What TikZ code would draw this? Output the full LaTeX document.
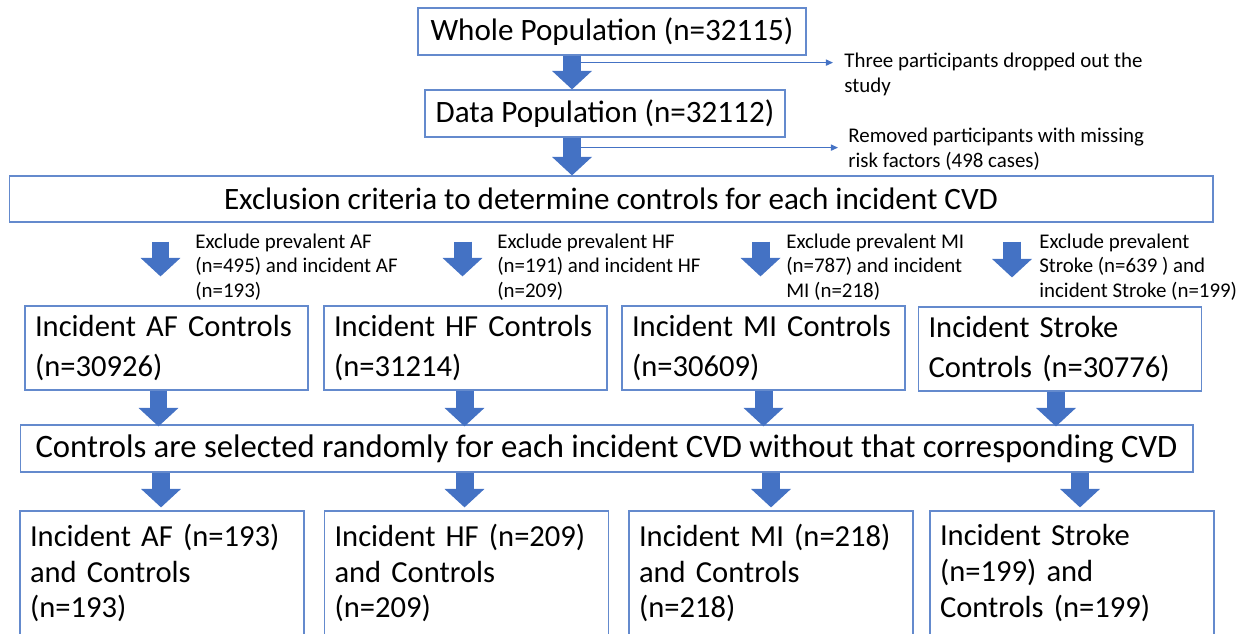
\documentclass[tikz,border=0pt]{standalone}
\usepackage{fontspec}
\setmainfont{Carlito}
\usepackage{tikz}
\usetikzlibrary{arrows.meta, positioning, calc}
\definecolor{flowblue}{RGB}{68,114,196}
\definecolor{boxline}{RGB}{100,138,205}

\tikzset{
  box/.style={draw=boxline, line width=0.7pt, inner sep=0pt, text=black,
    font=\fontsize{17.7}{21}\selectfont},
  ctlbox/.style={box, minimum height=1.68cm, text width=5.26cm, inner xsep=0.2cm,
    align=left, font=\fontsize{17.4}{22.7}\selectfont},
  resbox/.style={box, minimum height=2.48cm, text width=5.28cm, inner xsep=0.2cm,
    align=left, font=\fontsize{17.4}{20.4}\selectfont},
  note/.style={anchor=base west, inner sep=0pt, align=left,
    font=\fontsize{11.9}{13.8}\selectfont},
  bigarrow/.style={flowblue, line width=0.36cm,
    -{Triangle[width=0.8cm, length=0.37cm, line width=0pt]}},
  thinarrow/.style={flowblue, line width=0.6pt, -{Triangle[width=3.5pt, length=4pt]}},
}

\begin{document}
\begin{tikzpicture}[x=0.02cm, y=-0.02cm]
  \useasboundingbox (0,0) rectangle (1242,633);

  % Top of the flow
  \node[box, minimum width=7.76cm, minimum height=0.94cm] (whole) at (612,31.5)
    {Whole Population (n=32115)};
  \node[box, minimum width=7.2cm, minimum height=0.94cm] (data) at (605,113.5)
    {Data Population (n=32112)};
  \node[box, minimum width=24.08cm, minimum height=0.92cm] (excl) at (611,199)
    {Exclusion criteria to determine controls for each incident CVD};

  % Dropped participants (base = last line)
  \node[note] (note1) at (844,92) {Three participants dropped out the\\study};
  \node[note] (note2) at (848,167) {Removed participants with missing\\risk factors (498 cases)};

  \coordinate (mainx) at (572,0);
  \draw[bigarrow] (whole.south -| mainx) -- (data.north -| mainx);
  \draw[bigarrow] (data.south -| mainx) -- (excl.north -| mainx);
  \coordinate (drop1) at ($(whole.south -| mainx)+(9,7)$);
  \coordinate (drop2) at ($(data.south -| mainx)+(9,10)$);
  \draw[thinarrow] (drop1) -- ($(drop1 -| note1.west)+(-11,0)$);
  \draw[thinarrow] (drop2) -- ($(drop2 -| note2.west)+(-10,0)$);

  % Controls per incident CVD
  \node[ctlbox] (ctl1) at (166.5,348) {Incident AF Controls\\(n=30926)};
  \node[ctlbox] (ctl2) at (465.5,348) {Incident HF Controls\\(n=31214)};
  \node[ctlbox] (ctl3) at (763.5,348) {Incident MI Controls\\(n=30609)};
  \node[ctlbox] (ctl4) at (1060,349) {Incident Stroke\\Controls (n=30776)};

  \node[note] (ex1) at (195,297) {Exclude prevalent AF\\(n=495) and incident AF\\(n=193)};
  \node[note] (ex2) at (497,297) {Exclude prevalent HF\\(n=191) and incident HF\\(n=209)};
  \node[note] (ex3) at (786,297) {Exclude prevalent MI\\(n=787) and incident\\MI (n=218)};
  \node[note] (ex4) at (1039,297) {Exclude prevalent\\Stroke (n=639 ) and\\incident Stroke (n=199)};

  \foreach \b/\dx in {ctl1/-6, ctl2/-3, ctl3/-3, ctl4/-48}
    \draw[bigarrow] ($(excl.south -| \b.north)+(\dx,19)$) -- ($(\b.north)+(\dx,-29)$);

  % Random selection of controls
  \node[box, minimum width=23.46cm, minimum height=0.94cm, font=\fontsize{18.6}{21}\selectfont]
    (sel) at (606.5,448.5)
    {Controls are selected randomly for each incident CVD without that corresponding CVD};

  \foreach \b/\dx in {ctl1/-8, ctl2/-1, ctl3/0, ctl4/-4}
    \draw[bigarrow] ($(\b.south)+(\dx,0)$) -- ($(sel.north -| \b.south)+(\dx,2)$);

  % Final case-control sets
  \node[resbox] (res1) at (162,573) {Incident AF (n=193)\\and Controls\\(n=193)};
  \node[resbox] (res2) at (466.5,573) {Incident HF (n=209)\\and Controls\\(n=209)};
  \node[resbox] (res3) at (771,573) {Incident MI (n=218)\\and Controls\\(n=218)};
  \node[resbox] (res4) at (1072,573) {Incident Stroke\\(n=199) and\\Controls (n=199)};

  \foreach \b/\dx in {res1/-1, res2/-2, res3/0, res4/8}
    \draw[bigarrow] ($(sel.south -| \b.north)+(\dx,0)$) -- ($(\b.north)+(\dx,-3)$);

\end{tikzpicture}
\end{document}
